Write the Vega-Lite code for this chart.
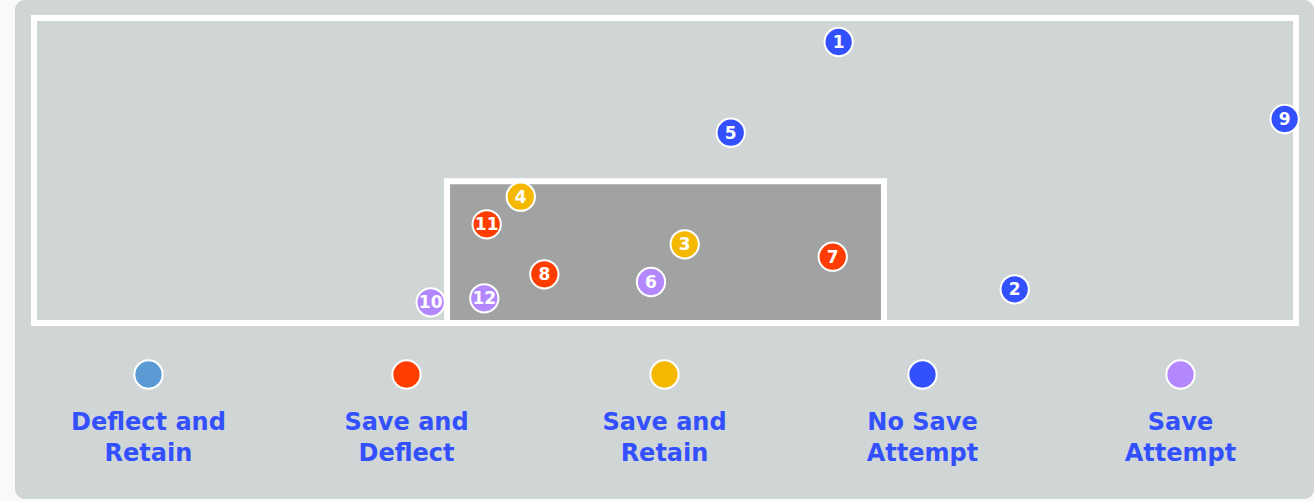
{
  "$schema": "https://vega.github.io/schema/vega-lite/v6.json",
  "width": 1299,
  "height": 499,
  "autosize": {"type": "none"},
  "padding": {"left": 15, "top": 0, "right": 0, "bottom": 2},
  "background": "#f9f9f9",
  "config": {
    "view": {"fill": "#d0d6d6", "stroke": null, "cornerRadius": 10},
    "font": "DejaVu Sans",
    "axis": {"disable": true}
  },
  "datasets": {
    "shots": [
      {"shot": "1", "outcome": "No Save Attempt", "x": 63.76, "y": 92.13},
      {"shot": "2", "outcome": "No Save Attempt", "x": 77.71, "y": 11.05},
      {"shot": "3", "outcome": "Save and Retain", "x": 51.56, "y": 25.80},
      {"shot": "4", "outcome": "Save and Retain", "x": 38.57, "y": 41.41},
      {"shot": "5", "outcome": "No Save Attempt", "x": 55.21, "y": 62.39},
      {"shot": "6", "outcome": "Save Attempt", "x": 48.89, "y": 13.44},
      {"shot": "7", "outcome": "Save and Deflect", "x": 63.29, "y": 21.74},
      {"shot": "8", "outcome": "Save and Deflect", "x": 40.44, "y": 15.97},
      {"shot": "9", "outcome": "No Save Attempt", "x": 99.10, "y": 66.89},
      {"shot": "10", "outcome": "Save Attempt", "x": 31.43, "y": 6.79},
      {"shot": "11", "outcome": "Save and Deflect", "x": 35.87, "y": 32.36},
      {"shot": "12", "outcome": "Save Attempt", "x": 35.68, "y": 8.10}
    ],
    "zones": [
      {"zone": "area", "x0": 0, "x1": 100, "y0": 0, "y1": 100},
      {"zone": "goal", "x0": 32.73, "x1": 67.35, "y0": 0, "y1": 46.46}
    ],
    "legend": [
      {"outcome": "Deflect and Retain", "label": "Deflect and\nRetain"},
      {"outcome": "Save and Deflect", "label": "Save and\nDeflect"},
      {"outcome": "Save and Retain", "label": "Save and\nRetain"},
      {"outcome": "No Save Attempt", "label": "No Save\nAttempt"},
      {"outcome": "Save Attempt", "label": "Save\nAttempt"}
    ]
  },
  "layer": [
    {
      "layer": [
        {
          "data": {"name": "zones"},
          "mark": {"type": "rect", "stroke": "#ffffff", "strokeWidth": 6},
          "encoding": {
            "x": {"field": "x0", "type": "quantitative", "scale": {"domain": [0, 100], "range": [19, 1281], "zero": false, "nice": false}, "axis": null},
            "x2": {"field": "x1"},
            "y": {"field": "y0", "type": "quantitative", "scale": {"domain": [0, 100], "range": [323, 18], "zero": false, "nice": false}, "axis": null},
            "y2": {"field": "y1"},
            "fill": {
              "field": "zone", "type": "nominal", "legend": null,
              "scale": {"domain": ["area", "goal"], "range": ["#d0d6d6", "#a0a3a2"]}
            }
          }
        },
        {
          "data": {"name": "shots"},
          "mark": {"type": "point", "shape": "circle", "filled": true, "size": 800, "stroke": "#ffffff", "strokeWidth": 2, "opacity": 1},
          "encoding": {
            "x": {"field": "x", "type": "quantitative", "axis": null},
            "y": {"field": "y", "type": "quantitative", "axis": null},
            "color": {
              "field": "outcome", "type": "nominal", "legend": null,
              "scale": {
                "domain": ["Deflect and Retain", "Save and Deflect", "Save and Retain", "No Save Attempt", "Save Attempt"],
                "range": ["#5b9bd5", "#ff3d00", "#f5b800", "#3350ff", "#b388ff"]
              }
            }
          }
        },
        {
          "data": {"name": "shots"},
          "mark": {"type": "text", "color": "#ffffff", "fontSize": 17, "fontWeight": "bold", "align": "center", "baseline": "middle", "dy": 1},
          "encoding": {
            "x": {"field": "x", "type": "quantitative", "axis": null},
            "y": {"field": "y", "type": "quantitative", "axis": null},
            "text": {"field": "shot"}
          }
        }
      ]
    },
    {
      "data": {"name": "legend"},
      "layer": [
        {
          "mark": {"type": "point", "shape": "circle", "filled": true, "size": 800, "stroke": "#ffffff", "strokeWidth": 2, "opacity": 1},
          "encoding": {
            "x": {"field": "outcome", "type": "nominal", "sort": null, "scale": {"type": "point", "padding": 0.5174}, "axis": null},
            "y": {"datum": -16.89, "type": "quantitative", "axis": null},
            "color": {"field": "outcome", "type": "nominal", "legend": null}
          }
        },
        {
          "mark": {"type": "text", "color": "#3350ff", "fontSize": 24, "fontWeight": "bold", "align": "center", "baseline": "top", "lineBreak": "\n", "lineHeight": 31},
          "encoding": {
            "x": {"field": "outcome", "type": "nominal", "sort": null, "axis": null},
            "y": {"datum": -28.95, "type": "quantitative", "axis": null},
            "text": {"field": "label"}
          }
        }
      ]
    }
  ],
  "resolve": {"scale": {"x": "independent", "fill": "independent"}}
}
